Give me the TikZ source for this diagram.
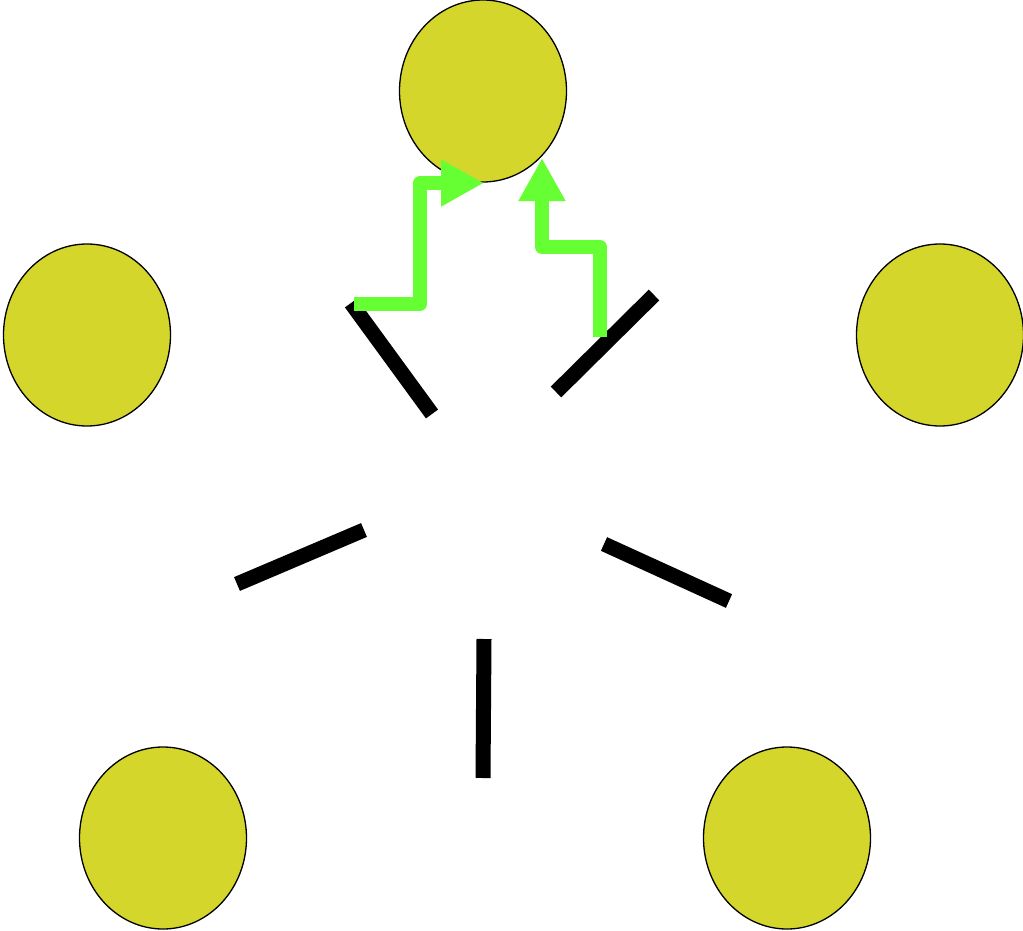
\documentclass[tikz,border=0pt]{standalone}
\usetikzlibrary{shapes.geometric,arrows.meta}
\definecolor{ballfill}{HTML}{D5D62C}
\definecolor{arrowgreen}{HTML}{66FF33}
\begin{document}
\begin{tikzpicture}[x=1pt,y=-1pt,
  ball/.style={ellipse,draw=black,line width=1.3pt,fill=ballfill,minimum width=167pt,minimum height=182pt,inner sep=0pt},
  bar/.style={line width=15pt,line cap=butt,black},
  garrow/.style={arrowgreen,line width=14pt,line join=round,line cap=butt,-{Triangle[length=43pt,width=44pt]}}]
\useasboundingbox (0,0) rectangle (1023,931);
\node[ball] (top) at (483,91) {};
\node[ball] (left) at (87,335) {};
\node[ball] (right) at (940,335) {};
\node[ball] (bl) at (163,838) {};
\node[ball] (br) at (787,838) {};
\draw[bar] (351,303) -- (432,414);
\draw[bar] (654,295) -- (556,392);
\draw[bar] (237,584) -- (364,530);
\draw[bar] (604,544) -- (729,601);
\draw[bar] (484,639) -- (483,778);
\coordinate (s1) at (354,304);
\coordinate (s2) at (600,337);
\coordinate (t1) at (484,183);
\coordinate (t2) at (542,158);
\draw[garrow] (s1) -- (420,304) -- (420,183) -- (t1);
\draw[garrow] (s2) -- (600,247) -- (542,247) -- (t2);
\end{tikzpicture}
\end{document}
